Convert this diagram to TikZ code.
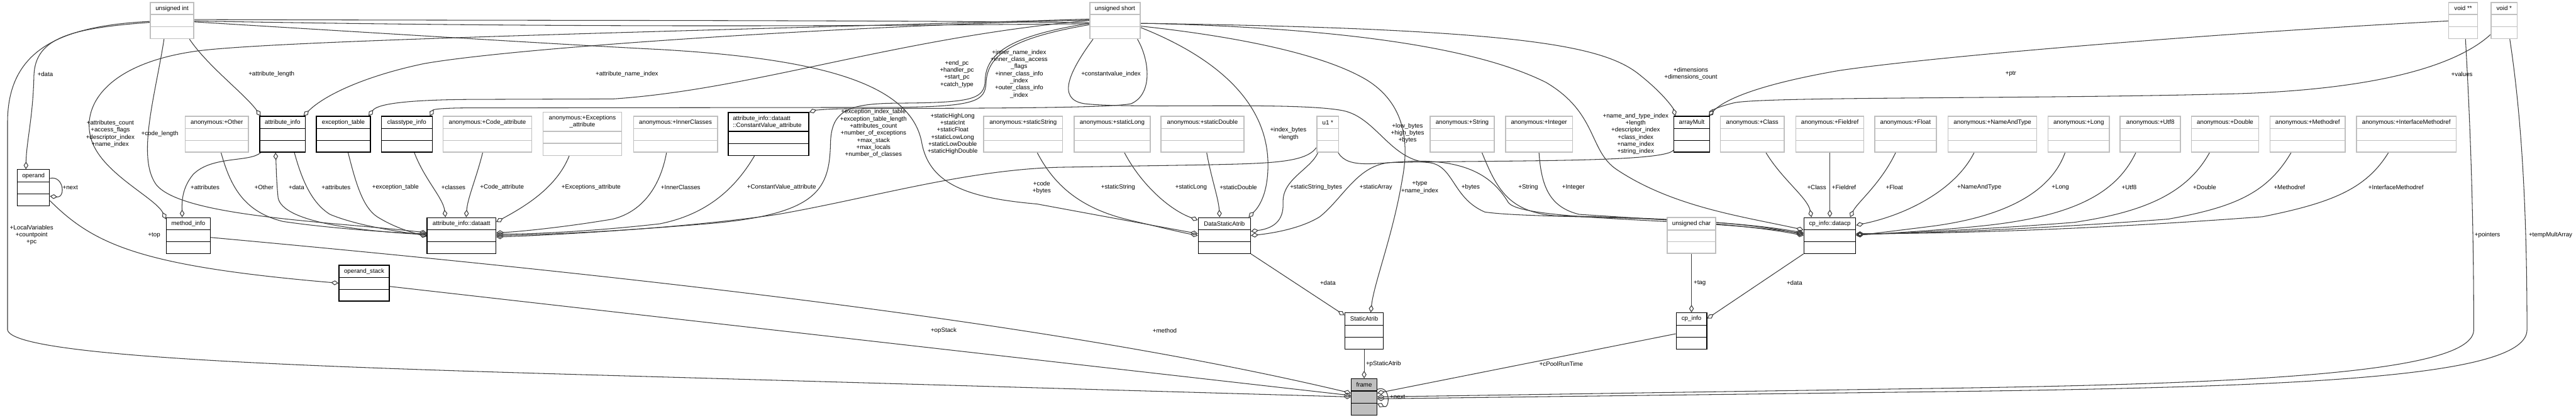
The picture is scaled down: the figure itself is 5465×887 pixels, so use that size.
\documentclass[tikz,border=0pt]{standalone}
\usepackage{fontspec}
\setmainfont{Liberation Sans}
\usetikzlibrary{arrows.meta,fit,calc}
\pgfdeclarelayer{bg}
\pgfsetlayers{bg,main}
\definecolor{edgec}{RGB}{60,60,60}
\definecolor{grayb}{RGB}{191,191,191}
\newcommand\dfont{\fontsize{3.7pt}{4.3pt}\selectfont}
\tikzset{
  blk/.style={draw=black, fill=white, line width=0.5pt, inner sep=0pt},
  blksep/.style={draw=black, line width=0.5pt},
  gry/.style={draw=grayb, fill=white, line width=0.6pt, inner sep=0pt},
  grysep/.style={draw=grayb, line width=0.6pt},
  frm/.style={draw=black, fill=grayb, line width=0.5pt, inner sep=0pt},
  frmsep/.style={draw=black, line width=0.5pt},
  ttl/.style={font=\dfont, inner sep=0pt, align=center},
  lbl/.style={font=\dfont, inner sep=0pt, align=center},
  edge/.style={draw=edgec, line width=0.4pt, -{Diamond[open,length=0.16cm,width=0.1cm]}},
}
\newcommand\umlbox[8]{%
  \node[#2, fit={(#3,#4) (#5,#6)}] (#1) {};
  \draw[#2sep] (#3,{#4+#7}) -- (#5,{#4+#7});
  \draw[#2sep] (#3,{(#4+#7+#6)/2}) -- (#5,{(#4+#7+#6)/2});
  \node[ttl] (#1t) at ({(#3+#5)/2},{#4+#7/2}) {#8};
}
\begin{document}
\begin{tikzpicture}[x=0.01cm,y=-0.01cm]
\useasboundingbox (0,0) rectangle (5465,887);
\begin{pgfonlayer}{bg}
\fill[white] (0,0) rectangle (5465,887);
\end{pgfonlayer}
% ---------------- boxes ----------------
\umlbox{uint}{gry}{319}{5}{411}{82}{26}{unsigned int}
\umlbox{ushort}{gry}{2312}{5}{2419}{82}{26}{unsigned short}
\umlbox{voidpp}{gry}{5195}{5}{5256}{82}{26}{void **}
\umlbox{voidp}{gry}{5285}{5}{5340}{82}{26}{void *}
\umlbox{operand}{blk}{37}{360}{105}{437}{26}{operand}
\umlbox{anonOther}{gry}{393}{247}{527}{323}{26}{anonymous:+Other}
\umlbox{attrinfo}{blk}{551}{247}{648}{323}{26}{attribute\_info}
\umlbox{exctable}{blk}{671}{247}{786}{323}{26}{exception\_table}
\umlbox{classtype}{blk}{809}{247}{917}{323}{26}{classtype\_info}
\umlbox{anonCode}{gry}{940}{247}{1128}{323}{26}{anonymous:+Code\_attribute}
\umlbox{anonExc}{gry}{1152}{238}{1319}{330}{41}{anonymous:+Exceptions\\\_attribute}
\umlbox{anonInner}{gry}{1344}{247}{1522}{323}{26}{anonymous:+InnerClasses}
\umlbox{constval}{blk}{1545}{239}{1716}{330}{40}{}
\node[ttl, align=left, anchor=west] (constvallbl) at (1554,259.5) {attribute\_info::dataatt\\::ConstantValue\_attribute};
\umlbox{anonSString}{gry}{2087}{247}{2254}{323}{26}{anonymous:+staticString}
\umlbox{anonSLong}{gry}{2279}{247}{2440}{323}{26}{anonymous:+staticLong}
\umlbox{anonSDouble}{gry}{2463}{247}{2639}{323}{26}{anonymous:+staticDouble}
\umlbox{u1p}{gry}{2794}{247}{2840}{323}{26}{u1 *}
\umlbox{anonString}{gry}{3034}{247}{3170}{323}{26}{anonymous:+String}
\umlbox{anonInteger}{gry}{3194}{247}{3336}{323}{26}{anonymous:+Integer}
\umlbox{arraymult}{blk}{3551}{247}{3627}{323}{26}{arrayMult}
\umlbox{anonClass}{gry}{3650}{247}{3785}{323}{26}{anonymous:+Class}
\umlbox{anonFieldref}{gry}{3810}{247}{3954}{323}{26}{anonymous:+Fieldref}
\umlbox{anonFloat}{gry}{3977}{247}{4108}{323}{26}{anonymous:+Float}
\umlbox{anonNAT}{gry}{4133}{247}{4321}{323}{26}{anonymous:+NameAndType}
\umlbox{anonLong}{gry}{4345}{247}{4475}{323}{26}{anonymous:+Long}
\umlbox{anonUtf}{gry}{4498}{247}{4626}{323}{26}{anonymous:+Utf8}
\umlbox{anonDouble}{gry}{4649}{247}{4792}{323}{26}{anonymous:+Double}
\umlbox{anonMref}{gry}{4816}{247}{4975}{323}{26}{anonymous:+Methodref}
\umlbox{anonIMref}{gry}{4999}{247}{5211}{323}{26}{anonymous:+InterfaceMethodref}
\umlbox{methodinfo}{blk}{353}{462}{446}{538}{26}{method\_info}
\umlbox{dataatt}{blk}{906}{462}{1052}{538}{26}{attribute\_info::dataatt}
\umlbox{dsa}{blk}{2542}{462}{2653}{538}{26}{DataStaticAtrib}
\umlbox{uchar}{gry}{3537}{462}{3640}{538}{26}{unsigned char}
\umlbox{datacp}{blk}{3827}{462}{3937}{538}{26}{cp\_info::datacp}
\umlbox{opstack}{blk}{719}{563}{826}{639}{26}{operand\_stack}
\umlbox{staticatrib}{blk}{2853}{664}{2935}{741}{26}{StaticAtrib}
\umlbox{cpinfo}{blk}{3556}{664}{3621}{741}{26}{cp\_info}
\umlbox{frame}{frm}{2867}{804}{2921}{881}{26}{frame}
% ---------------- edges ----------------
\begin{pgfonlayer}{bg}
\draw[edge] ([shift={(0,2)}]uint.west) .. controls (120,55) and (16,110) .. (16,260) -- (16,700) .. controls (25,760) and (700,780) .. (1400,800) -- (frame.west);
\draw[edge] ([shift={(0,4)}]uint.west) .. controls (150,60) and (75,80) .. (72,160) .. controls (70,250) and (56,300) .. ([shift={(-16,0)}]operand.north);
\draw[edge] ([shift={(0,-20)}]operand.east) .. controls (135,372) and (140,420) .. ([shift={(0,18)}]operand.east);
\draw[edge] ([shift={(0,-12)}]operand.south east) .. controls (200,520) and (300,565) .. (opstack.west);
\draw[edge] ([shift={(0,7)}]opstack.east) -- ([shift={(0,-3)}]frame.west);
\draw[edge] ([shift={(0,4)}]methodinfo.east) .. controls (1500,600) and (2300,700) .. ([shift={(0,-8)}]frame.west);
\draw[edge] ([shift={(3,0)}]attrinfo.south west) .. controls (530,345) and (450,330) .. (410,370) .. controls (385,400) and (386,430) .. ([shift={(-13,0)}]methodinfo.north);
\draw[edge] ([shift={(0,-3)}]ushort.west) .. controls (1500,65) and (600,85) .. (420,108) .. controls (220,135) and (170,230) .. (195,300) .. controls (220,370) and (330,420) .. ([shift={(0,4)}]methodinfo.north west);
\draw[edge] ([shift={(37,0)}]uint.south) .. controls (440,140) and (520,200) .. ([shift={(3,0)}]attrinfo.north west);
\draw[edge] ([shift={(0,-1)}]ushort.west) .. controls (1800,55) and (1100,100) .. (900,135) .. controls (780,160) and (690,200) .. ([shift={(-5,0)}]attrinfo.north east);
\draw[edge] ([shift={(-17,0)}]uint.south) .. controls (330,200) and (290,330) .. (330,390) .. controls (380,460) and (700,470) .. ([shift={(0,-6)}]dataatt.west);
\draw[edge] ([shift={(9,0)}]anonOther.south) .. controls (490,400) and (520,450) .. (600,470) .. controls (700,485) and (850,495) .. ([shift={(0,-4)}]dataatt.west);
\draw[edge] ([shift={(0,-2)}]dataatt.west) .. controls (750,490) and (600,470) .. (590,420) .. controls (586,380) and (586,350) .. ([shift={(-15,0)}]attrinfo.south);
\draw[edge] ([shift={(25,0)}]attrinfo.south) .. controls (640,380) and (660,430) .. (700,455) .. controls (760,480) and (850,492) .. (dataatt.west);
\draw[edge] ([shift={(10,0)}]exctable.south) .. controls (755,390) and (770,440) .. (800,460) .. controls (840,485) and (880,495) .. ([shift={(0,2)}]dataatt.west);
\draw[edge] ([shift={(16,0)}]classtype.south) .. controls (900,380) and (940,420) .. ([shift={(-34,0)}]dataatt.north);
\draw[edge] ([shift={(-10,0)}]anonCode.south) .. controls (1010,380) and (992,420) .. ([shift={(10,0)}]dataatt.north);
\draw[edge] ([shift={(-28,0)}]anonExc.south) .. controls (1180,400) and (1110,440) .. ([shift={(0,10)}]dataatt.north east);
\draw[edge] ([shift={(-19,0)}]anonInner.south) .. controls (1400,400) and (1360,450) .. (1300,465) .. controls (1200,482) and (1100,492) .. ([shift={(0,-6)}]dataatt.east);
\draw[edge] ([shift={(-30,0)}]constval.south) .. controls (1560,400) and (1500,455) .. (1400,475) .. controls (1250,492) and (1120,497) .. ([shift={(0,-3)}]dataatt.east);
\draw[edge] ([shift={(0,6)}]ushort.west) .. controls (2150,75) and (2092,110) .. (2090,170) .. controls (2089,212) and (2060,218) .. (1900,219) .. controls (1800,220) and (1765,235) .. (1762,300) .. controls (1760,400) and (1740,455) .. (1500,475) .. controls (1300,492) and (1150,498) .. (dataatt.east);
\draw[edge] ([shift={(0,28)}]u1p.west) .. controls (2770,345) and (2700,347) .. (2550,350) -- (2250,355) .. controls (2050,360) and (1850,420) .. (1650,455) .. controls (1450,485) and (1150,500) .. ([shift={(0,3)}]dataatt.east);
\draw[edge] ([shift={(0,3)}]uint.east) .. controls (800,70) and (1200,95) .. (1400,105) .. controls (1750,125) and (1930,180) .. (1955,300) .. controls (1970,390) and (2050,420) .. (2200,433) -- ([shift={(0,-4)}]dsa.west);
\draw[edge] ([shift={(30,0)}]anonSString.south) .. controls (2240,400) and (2300,445) .. (2400,468) .. controls (2460,482) and (2500,492) .. (dsa.west);
\draw[edge] ([shift={(26,0)}]anonSLong.south) .. controls (2420,390) and (2480,445) .. ([shift={(0,6)}]dsa.north west);
\draw[edge] ([shift={(9,0)}]anonSDouble.south) .. controls (2570,380) and (2585,420) .. ([shift={(-10,0)}]dsa.north);
\draw[edge] ([shift={(0,15)}]ushort.east) .. controls (2550,110) and (2690,200) .. (2690,350) .. controls (2690,420) and (2665,445) .. ([shift={(-5,0)}]dsa.north east);
\draw[edge] ([shift={(3,0)}]u1p.south west) .. controls (2780,360) and (2720,380) .. (2722,430) .. controls (2724,470) and (2700,485) .. ([shift={(0,-9)}]dsa.east);
\draw[edge] ([shift={(0,-5)}]arraymult.south west) .. controls (3530,345) and (3200,340) .. (2950,345) .. controls (2880,350) and (2850,420) .. (2800,460) .. controls (2760,485) and (2700,495) .. (dsa.east);
\draw[edge] (dsa.south east) -- ([shift={(0,6)}]staticatrib.north west);
\draw[edge] (staticatrib.south) -- (frame.north);
\draw[edge] ([shift={(0,12)}]ushort.east) .. controls (2600,75) and (2800,110) .. (2900,170) .. controls (2980,220) and (2990,300) .. (2975,380) .. controls (2955,500) and (2915,600) .. ([shift={(14,0)}]staticatrib.north);
\draw[edge] ([shift={(0,-2)}]uint.east) .. controls (1500,45) and (2400,40) .. (2900,62) .. controls (3300,80) and (3420,110) .. (3480,160) .. controls (3530,200) and (3550,230) .. ([shift={(4,0)}]arraymult.north west);
\draw[edge] ([shift={(0,1)}]uint.east) .. controls (1500,65) and (2300,48) .. (2450,50) .. controls (2900,62) and (3150,110) .. (3280,175) .. controls (3390,240) and (3370,320) .. (3430,360) .. controls (3550,440) and (3700,460) .. ([shift={(0,-12)}]datacp.west);
\draw[edge] ([shift={(8,0)}]ushort.south west) .. controls (2270,150) and (2240,210) .. (2300,220) .. controls (2400,232) and (2750,215) .. (2850,235) .. controls (2920,250) and (2950,340) .. (3030,345) .. controls (3085,350) and (3080,420) .. (3150,450) .. controls (3250,465) and (3600,455) .. ([shift={(0,-6)}]datacp.west);
\draw[edge] ([shift={(-2,0)}]u1p.south east) .. controls (2860,360) and (2920,345) .. (3000,342) .. controls (3120,340) and (3170,380) .. (3200,430) .. controls (3230,470) and (3600,462) .. ([shift={(0,-4)}]datacp.west);
\draw[edge] ([shift={(42,0)}]anonString.south) .. controls (3175,400) and (3200,450) .. (3300,458) .. controls (3500,462) and (3700,470) .. ([shift={(0,-2)}]datacp.west);
\draw[edge] (anonInteger.south) .. controls (3270,400) and (3290,440) .. (3350,455) .. controls (3500,465) and (3700,475) .. (datacp.west);
\draw[edge] ([shift={(29,0)}]anonClass.south) .. controls (3780,380) and (3835,420) .. ([shift={(-39,0)}]datacp.north);
\draw[edge] (anonFieldref.south) -- (datacp.north);
\draw[edge] ([shift={(-21,0)}]anonFloat.south) .. controls (3990,390) and (3940,430) .. ([shift={(43,0)}]datacp.north);
\draw[edge] ([shift={(-39,0)}]anonNAT.south) .. controls (4150,400) and (4050,455) .. ([shift={(0,-22)}]datacp.east);
\draw[edge] ([shift={(-29,0)}]anonLong.south) .. controls (4350,410) and (4250,460) .. (4100,480) .. controls (4020,490) and (3970,496) .. (datacp.east);
\draw[edge] ([shift={(-31,0)}]anonUtf.south) .. controls (4490,410) and (4400,460) .. (4200,480) .. controls (4100,490) and (3990,496) .. ([shift={(0,-1)}]datacp.east);
\draw[edge] ([shift={(-33,0)}]anonDouble.south) .. controls (4640,410) and (4550,450) .. (4400,472) .. controls (4200,488) and (4000,496) .. ([shift={(0,-2)}]datacp.east);
\draw[edge] ([shift={(-35,0)}]anonMref.south) .. controls (4810,410) and (4740,440) .. (4600,465) .. controls (4300,488) and (4050,496) .. ([shift={(0,-3)}]datacp.east);
\draw[edge] ([shift={(-38,0)}]anonIMref.south) .. controls (5020,400) and (4950,430) .. (4800,460) .. controls (4400,490) and (4100,496) .. ([shift={(0,-4)}]datacp.east);
\draw[edge] (datacp.south west) -- ([shift={(0,13)}]cpinfo.north east);
\draw[edge] (uchar.south) -- (cpinfo.north);
\draw[edge] ([shift={(0,6)}]cpinfo.west) -- ([shift={(0,-8)}]frame.east);
\draw[edge] ([shift={(5,0)}]voidpp.south) .. controls (5240,250) and (5248,450) .. (5248,700) .. controls (5248,790) and (4800,815) .. (4065,825) -- (frame.east);
\draw[edge] ([shift={(12,0)}]voidp.south) .. controls (5350,250) and (5361,450) .. (5361,700) .. controls (5361,800) and (4900,822) .. (4065,832) -- ([shift={(0,4)}]frame.east);
\draw[edge] ([shift={(0,-16)}]frame.east) .. controls (2950,815) and (2950,870) .. ([shift={(0,14)}]frame.east);
\draw[edge] ([shift={(0,1)}]voidpp.west) .. controls (4700,70) and (4100,120) .. (3900,150) .. controls (3700,185) and (3650,220) .. ([shift={(-3,0)}]arraymult.north east);
\draw[edge] ([shift={(0,-10)}]voidp.south west) .. controls (5200,150) and (5000,195) .. (4700,200) .. controls (4300,210) and (3750,205) .. (3680,218) .. controls (3645,226) and (3632,235) .. ([shift={(-1,0)}]arraymult.north east);
\draw[edge] (ushort.west) .. controls (1900,80) and (1600,190) .. (1300,210) -- (1000,211) .. controls (850,212) and (800,222) .. ([shift={(-5,0)}]exctable.north east);
\draw[edge] ([shift={(0,9)}]ushort.west) .. controls (2150,80) and (2095,115) .. (2092,175) .. controls (2090,215) and (2070,226) .. (1900,228) -- (1000,229) .. controls (940,229) and (920,232) .. ([shift={(-6,0)}]classtype.north east);
\draw[edge] ([shift={(-7,0)}]ushort.south east) .. controls (2440,130) and (2445,200) .. (2400,220) .. controls (2350,232) and (1900,229) .. (1780,231) .. controls (1745,232) and (1730,234) .. (constval.north east);
\end{pgfonlayer}
% ---------------- labels ----------------
\node[lbl] (l1) at (96,157) {+data};
\node[lbl] (l2) at (576,157) {+attribute\_length};
\node[lbl] (l3) at (1330,157) {+attribute\_name\_index};
\node[lbl] (l4) at (234,284) {+attributes\_count\\+access\_flags\\+descriptor\_index\\+name\_index};
\node[lbl] (l5) at (339,284) {+code\_length};
\node[lbl] (l6) at (149,398) {+next};
\node[lbl] (l7) at (435,398) {+attributes};
\node[lbl] (l8) at (560,398) {+Other};
\node[lbl] (l9) at (629,398) {+data};
\node[lbl] (l10) at (713,398) {+attributes};
\node[lbl] (l11) at (839,398) {+exception\_table};
\node[lbl] (l12) at (962,398) {+classes};
\node[lbl] (l13) at (1065,398) {+Code\_attribute};
\node[lbl] (l14) at (1254,398) {+Exceptions\_attribute};
\node[lbl] (l15) at (1444,398) {+InnerClasses};
\node[lbl] (l16) at (1658,398) {+ConstantValue\_attribute};
\node[lbl] (l17) at (2030,157) {+end\_pc\\+handler\_pc\\+start\_pc\\+catch\_type};
\node[lbl] (l18) at (2162,157) {+inner\_name\_index\\+inner\_class\_access\\\_flags\\+inner\_class\_info\\\_index\\+outer\_class\_info\\\_index};
\node[lbl] (l19) at (2357,157) {+constantvalue\_index};
\node[lbl] (l20) at (1853,283) {+exception\_index\_table\\+exception\_table\_length\\+attributes\_count\\+number\_of\_exceptions\\+max\_stack\\+max\_locals\\+number\_of\_classes};
\node[lbl] (l21) at (2021,284) {+staticHighLong\\+staticInt\\+staticFloat\\+staticLowLong\\+staticLowDouble\\+staticHighDouble};
\node[lbl] (l22) at (2210,398) {+code\\+bytes};
\node[lbl] (l23) at (2372,398) {+staticString};
\node[lbl] (l24) at (2527,398) {+staticLong};
\node[lbl] (l25) at (2627,398) {+staticDouble};
\node[lbl] (l26) at (2733,284) {+index\_bytes\\+length};
\node[lbl] (l27) at (3587,157) {+dimensions\\+dimensions\_count};
\node[lbl] (l28) at (2986,283) {+low\_bytes\\+high\_bytes\\+bytes};
\node[lbl] (l29) at (3470,284) {+name\_and\_type\_index\\+length\\+descriptor\_index\\+class\_index\\+name\_index\\+string\_index};
\node[lbl] (l30) at (2792,398) {+staticString\_bytes};
\node[lbl] (l31) at (2919,398) {+staticArray};
\node[lbl] (l32) at (3012,398) {+type\\+name\_index};
\node[lbl] (l33) at (3120,398) {+bytes};
\node[lbl] (l34) at (3242,398) {+String};
\node[lbl] (l35) at (3338,398) {+Integer};
\node[lbl] (l36) at (3854,398) {+Class};
\node[lbl] (l37) at (3912,398) {+Fieldref};
\node[lbl] (l38) at (4019,398) {+Float};
\node[lbl] (l39) at (4266,157) {+ptr};
\node[lbl] (l40) at (5223,157) {+values};
\node[lbl] (l41) at (4199,398) {+NameAndType};
\node[lbl] (l42) at (4371,398) {+Long};
\node[lbl] (l43) at (4517,398) {+Utf8};
\node[lbl] (l44) at (4677,398) {+Double};
\node[lbl] (l45) at (4857,398) {+Methodref};
\node[lbl] (l46) at (5083,398) {+InterfaceMethodref};
\node[lbl] (l47) at (67,499) {+LocalVariables\\+countpoint\\+pc};
\node[lbl] (l48) at (327,499) {+top};
\node[lbl] (l49) at (2002,702) {+opStack};
\node[lbl] (l50) at (2471,702) {+method};
\node[lbl] (l51) at (2817,601) {+data};
\node[lbl] (l52) at (3606,601) {+tag};
\node[lbl] (l53) at (3807,601) {+data};
\node[lbl] (l54) at (2935,772) {+pStaticAtrib};
\node[lbl] (l55) at (3312,772) {+cPoolRunTime};
\node[lbl] (l56) at (2965,842) {+next};
\node[lbl] (l57) at (5277,499) {+pointers};
\node[lbl] (l58) at (5411,499) {+tempMultArray};
\end{tikzpicture}
\end{document}
